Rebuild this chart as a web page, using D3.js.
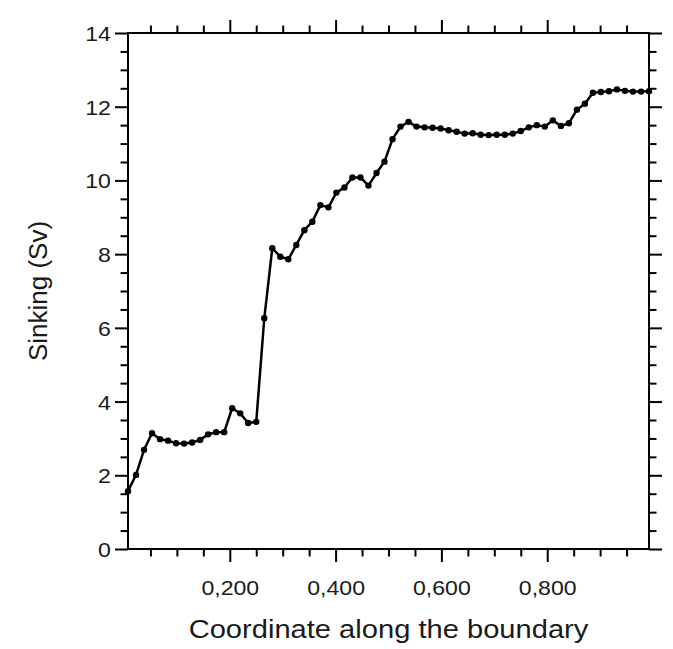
<!DOCTYPE html>
<html>
<head>
  <meta charset="utf-8">
  <title>Sinking along the boundary</title>
  <script src="https://d3js.org/d3.v7.min.js"></script>
  <style>
    body { margin: 0; background: #fff; }
    text { font-family: "Liberation Sans", Arial, Helvetica, sans-serif; fill: #000; }
  </style>
</head>
<body>
  <svg id="chart"></svg>
  <script>
    // positions along the boundary (evenly spaced samples)
    var coord = [0.0076, 0.0227, 0.0379, 0.0530, 0.0682, 0.0833, 0.0985, 0.1136, 0.1288, 0.1439,
                 0.1591, 0.1742, 0.1894, 0.2045, 0.2197, 0.2348, 0.2500, 0.2652, 0.2803, 0.2955,
                 0.3106, 0.3258, 0.3409, 0.3561, 0.3712, 0.3864, 0.4015, 0.4167, 0.4318, 0.4470,
                 0.4621, 0.4773, 0.4924, 0.5076, 0.5227, 0.5379, 0.5530, 0.5682, 0.5833, 0.5985,
                 0.6136, 0.6288, 0.6439, 0.6591, 0.6742, 0.6894, 0.7045, 0.7197, 0.7348, 0.7500,
                 0.7652, 0.7803, 0.7955, 0.8106, 0.8258, 0.8409, 0.8561, 0.8712, 0.8864, 0.9015,
                 0.9167, 0.9318, 0.9470, 0.9621, 0.9773, 0.9924];

    // sinking in Sv
    var sinking = [1.57, 2.01, 2.69, 3.14, 2.98, 2.94, 2.87, 2.86, 2.89, 2.96,
                   3.11, 3.17, 3.17, 3.82, 3.68, 3.42, 3.45, 6.26, 8.16, 7.93,
                   7.86, 8.25, 8.65, 8.88, 9.33, 9.27, 9.67, 9.81, 10.08, 10.08,
                   9.86, 10.20, 10.51, 11.12, 11.46, 11.59, 11.46, 11.44, 11.43, 11.41,
                   11.36, 11.32, 11.27, 11.28, 11.24, 11.23, 11.24, 11.24, 11.27, 11.34,
                   11.44, 11.50, 11.46, 11.63, 11.48, 11.55, 11.92, 12.08, 12.38, 12.40,
                   12.42, 12.47, 12.43, 12.41, 12.41, 12.42];

    var xMajorTicks = [0.2, 0.4, 0.6, 0.8];
    var xTickLabels = ["0,200", "0,400", "0,600", "0,800"];
    var xMinorTicks = [0.05, 0.1, 0.15, 0.25, 0.3, 0.35, 0.45, 0.5, 0.55, 0.65, 0.7, 0.75, 0.85, 0.9, 0.95];
    var yMajorTicks = [0, 2, 4, 6, 8, 10, 12, 14];
    var yMinorTicks = d3.range(0, 14.01, 0.5).filter(function(v) { return v % 2 !== 0; });

    var width = 673, height = 649;
    var margin = {top: 33, right: 24, bottom: 100, left: 128};
    var plotW = width - margin.left - margin.right;
    var plotH = height - margin.top - margin.bottom;

    var svg = d3.select("#chart")
                .attr("width", width)
                .attr("height", height);

    var g = svg.append("g")
               .attr("transform", "translate(" + margin.left + "," + margin.top + ")");

    var x = d3.scaleLinear().domain([coord[0], coord[coord.length - 1]]).range([0, plotW]);
    var y = d3.scaleLinear().domain([0, 14]).range([plotH, 0]);

    var major = 13, minor = 7.5;

    function tickAxis(axisFn, scale, values, size, transform) {
      var a = g.append("g")
               .attr("transform", transform)
               .call(axisFn(scale).tickValues(values).tickSize(size).tickSizeOuter(0).tickFormat(""));
      a.select(".domain").remove();
      a.selectAll("line").attr("stroke", "#000").attr("stroke-width", 2);
      return a;
    }

    // minor and major ticks on all four sides, pointing outward
    tickAxis(d3.axisBottom, x, xMinorTicks, minor, "translate(0," + plotH + ")");
    tickAxis(d3.axisTop, x, xMinorTicks, minor, "translate(0,0)");
    tickAxis(d3.axisTop, x, xMajorTicks, major, "translate(0,0)");
    tickAxis(d3.axisLeft, y, yMinorTicks, minor, "translate(0,0)");
    tickAxis(d3.axisRight, y, yMinorTicks, minor, "translate(" + plotW + ",0)");
    tickAxis(d3.axisRight, y, yMajorTicks, major, "translate(" + plotW + ",0)");

    // labelled bottom axis
    var xAxis = g.append("g")
                 .attr("transform", "translate(0," + plotH + ")")
                 .call(d3.axisBottom(x).tickValues(xMajorTicks).tickSize(major).tickSizeOuter(0)
                        .tickFormat(function(d, i) { return xTickLabels[i]; }));
    xAxis.select(".domain").remove();
    xAxis.selectAll("line").attr("stroke", "#000").attr("stroke-width", 2);
    xAxis.selectAll("text")
         .attr("y", 46)
         .attr("dy", 0)
         .attr("transform", "scale(1.1,1)")
         .style("font-size", "21px")
         .style("fill", "#1a1a1a");

    // labelled left axis
    var yAxis = g.append("g")
                 .call(d3.axisLeft(y).tickValues(yMajorTicks).tickSize(major).tickSizeOuter(0));
    yAxis.select(".domain").remove();
    yAxis.selectAll("line").attr("stroke", "#000").attr("stroke-width", 2);
    yAxis.selectAll("text")
         .attr("x", -15.5)
         .attr("dy", "0.36em")
         .attr("transform", "scale(1.1,1)")
         .style("font-size", "21px")
         .style("fill", "#1a1a1a");

    // frame
    g.append("rect")
     .attr("x", 0).attr("y", 0)
     .attr("width", plotW).attr("height", plotH)
     .attr("fill", "none")
     .attr("stroke", "#000")
     .attr("stroke-width", 2);

    // data line with dots
    var pts = coord.map(function(c, i) { return [c, sinking[i]]; });

    g.append("path")
     .datum(pts)
     .attr("fill", "none")
     .attr("stroke", "#000")
     .attr("stroke-width", 2.5)
     .attr("stroke-linejoin", "round")
     .attr("d", d3.line().x(d => x(d[0])).y(d => y(d[1])));

    g.selectAll(".dot")
     .data(pts)
     .enter()
     .append("circle")
     .attr("class", "dot")
     .attr("cx", d => x(d[0]))
     .attr("cy", d => y(d[1]))
     .attr("r", 3.2)
     .attr("fill", "#000");

    // axis titles
    svg.append("text")
       .attr("transform", "translate(" + (margin.left + plotW / 2) + ",638) scale(1.12,1)")
       .attr("text-anchor", "middle")
       .style("font-size", "26px")
       .style("fill", "#1a1a1a")
       .text("Coordinate along the boundary");

    svg.append("text")
       .attr("transform", "translate(47," + (margin.top + plotH / 2) + ") rotate(-90)")
       .attr("text-anchor", "middle")
       .style("font-size", "26px")
       .style("fill", "#1a1a1a")
       .text("Sinking (Sv)");
  </script>
</body>
</html>
